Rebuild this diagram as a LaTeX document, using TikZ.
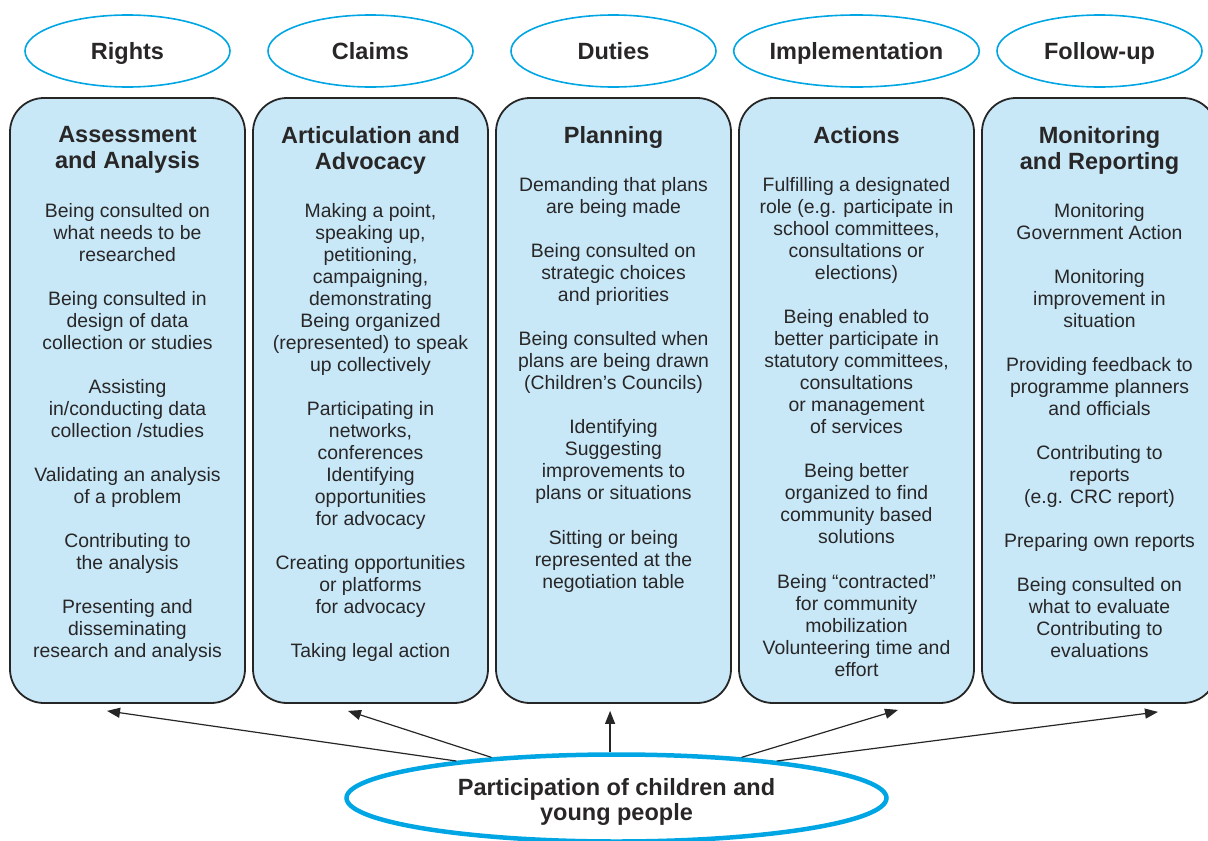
\documentclass[tikz,border=0pt]{standalone}
\usepackage{fontspec}
\setmainfont{Liberation Sans}
\usepackage{tikz}
\usetikzlibrary{shapes.geometric, arrows.meta}
\definecolor{ringblue}{RGB}{0,166,228}
\definecolor{boxblue}{RGB}{200,232,248}
\definecolor{inkgray}{RGB}{40,38,38}

\begin{document}
\begin{tikzpicture}[x=1pt, y=-1pt,
    stage/.style={ellipse, draw=ringblue, line width=1.6pt, minimum width=205pt, minimum height=72pt,
      inner sep=0pt, text height=16.8pt, text depth=0pt,
      font=\fontsize{23.5}{26}\selectfont\bfseries, text=inkgray},
    colbox/.style={draw=black!85, line width=1.8pt, fill=boxblue, rounded corners=34pt,
      minimum width=235pt, minimum height=605pt, inner sep=0pt},
    coltitle/.style={align=center, inner sep=0pt, anchor=north, font=\fontsize{23.5}{26}\selectfont\bfseries, text=inkgray},
    colbody/.style={align=center, inner sep=0pt, anchor=north, font=\fontsize{19.4}{22}\selectfont, text=inkgray},
    source/.style={ellipse, draw=ringblue, line width=4.5pt, fill=white, minimum width=540pt, minimum height=87pt,
      inner sep=0pt, align=center, font=\fontsize{23.5}{25}\selectfont\bfseries, text=inkgray},
    feed/.style={line width=1.2pt, draw=black!85, -{Triangle[length=13pt, width=10pt]}}]
    \clip (0,0) rectangle (1208,841);

    % top row
    \node[stage] (rights) at (127.5,51) {Rights};
    \node[stage] (claims) at (370.5,51) {Claims};
    \node[stage] (duties) at (613.5,51) {Duties};
    \node[stage] (implem) at (856.5,51) {Implementation};
    \node[stage] (follow) at (1099.5,51) {Follow-up};

    % columns
    \node[colbox] (c1) at (127.5,400.5) {};
    \node[colbox] (c2) at (370.5,400.5) {};
    \node[colbox] (c3) at (613.5,400.5) {};
    \node[colbox] (c4) at (856.5,400.5) {};
    \node[colbox] (c5) at (1099.5,400.5) {};

    \node[coltitle] at (127.5,126) {Assessment\\and Analysis};
    \node[coltitle] at (370.5,126) {Articulation and\\Advocacy};
    \node[coltitle] at (613.5,126) {Planning};
    \node[coltitle] at (856.5,126) {Actions};
    \node[coltitle] at (1099.5,126) {Monitoring\\and Reporting};

    \node[colbody] at (127.5,203) {Being consulted on\\what needs to be\\researched\\[22pt]
      Being consulted in\\design of data\\collection or studies\\[22pt]
      Assisting\\in/conducting data\\collection /studies\\[22pt]
      Validating an analysis\\of a problem\\[22pt]
      Contributing to\\the analysis\\[22pt]
      Presenting and\\disseminating\\research and analysis};
    \node[colbody] at (370.5,203) {Making a point,\\speaking up,\\petitioning,\\campaigning,\\demonstrating\\
      Being organized\\(represented) to speak\\up collectively\\[22pt]
      Participating in\\networks,\\conferences\\Identifying\\opportunities\\for advocacy\\[22pt]
      Creating opportunities\\or platforms\\for advocacy\\[22pt]
      Taking legal action};
    \node[colbody] at (613.5,177) {Demanding that plans\\are being made\\[22pt]
      Being consulted on\\strategic choices\\and priorities\\[22pt]
      Being consulted when\\plans are being drawn\\(Children’s Councils)\\[22pt]
      Identifying\\Suggesting\\improvements to\\plans or situations\\[23pt]
      Sitting or being\\represented at the\\negotiation table};
    \node[colbody] at (856.5,177) {Fulfilling a designated\\role (e.g. participate in\\school committees,\\consultations or\\elections)\\[22pt]
      Being enabled to\\better participate in\\statutory committees,\\consultations\\or management\\of services\\[22pt]
      Being better\\organized to find\\community based\\solutions\\[23pt]
      Being “contracted”\\for community\\mobilization\\Volunteering time and\\effort};
    \node[colbody] at (1099.5,203) {Monitoring\\Government Action\\[22pt]
      Monitoring\\improvement in\\situation\\[22pt]
      Providing feedback to\\programme planners\\and officials\\[22pt]
      Contributing to\\reports\\(e.g. CRC report)\\[22pt]
      Preparing own reports\\[22pt]
      Being consulted on\\what to evaluate\\Contributing to\\evaluations};

    % arrow ends below the columns
    \coordinate (t1) at ([xshift=-20.5pt, yshift=-7pt]c1.south);
    \coordinate (t2) at ([xshift=-22.5pt, yshift=-7pt]c2.south);
    \coordinate (t4) at ([xshift=41.5pt, yshift=-6pt]c4.south);
    \coordinate (t5) at ([xshift=58.5pt, yshift=-8pt]c5.south);

    \node[source] (people) at (616.5,798) {\rule{0pt}{25.5pt}Participation of children and\\young people};

    \draw[feed] (people.167) -- (t1);
    \draw[feed] (people.162) -- (t2);
    \draw[feed] (people.98) -- ([yshift=-7pt]people.98 |- c3.south);
    \draw[feed] (people.18.5) -- (t4);
    \draw[feed] (people.13) -- (t5);
\end{tikzpicture}
\end{document}
